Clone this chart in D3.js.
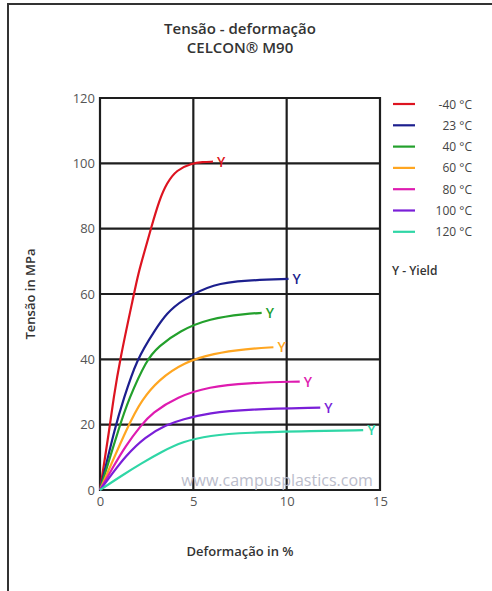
<!DOCTYPE html>
<html>
<head>
<meta charset="utf-8">
<script src="https://cdn.jsdelivr.net/npm/d3@7"></script>
<style>
  body { margin: 0; background: #fff; }
  svg { display: block; font-family: "Open Sans", sans-serif; }
</style>
</head>
<body>
<svg id="chart" width="492" height="591"></svg>
<script>
// series labels and colours
const temps = ["-40 °C", "23 °C", "40 °C", "60 °C", "80 °C", "100 °C", "120 °C"];
const colors = ["#dd1420", "#1c1f8e", "#23a02c", "#ffa621", "#de1bb0", "#7a1fd8", "#2fd6a6"];

// strain (%) / stress (MPa) points
const curveM40 = [[0,0],[0.54,20],[0.71,27.5],[1.07,40],[1.82,60],[2.05,66.3],[2.41,73.5],[2.73,80.1],[3.18,88.8],[3.57,93.9],[4.1,98],[4.9,100],[5.5,100.4],[6.05,100.5]];
const curve23  = [[0,0],[0.84,20],[1.25,27.5],[1.96,40],[2.95,49],[3.57,54.1],[4.4,58.2],[6.07,63.2],[7.86,64.2],[10.1,64.6]];
const curve40  = [[0,0],[1.07,20],[1.52,27.5],[2.5,40],[3.13,43.9],[4.25,48.7],[5.85,52.5],[7.86,54],[8.66,54.2]];
const curve60  = [[0,0],[1.52,20],[2.23,27.5],[3.13,33.7],[4.5,39.1],[6.07,41.8],[7.86,43.2],[9.29,43.7]];
const curve80  = [[0,0],[0.71,7.1],[1.34,13.3],[2.23,20],[2.77,23.5],[4.15,28.6],[5.85,31.6],[7.86,32.8],[10.7,33.2]];
const curve100 = [[0,0],[0.71,5.4],[1.34,10.2],[2.41,16.3],[3.57,20],[4.4,21.6],[5.85,23.6],[7.86,24.7],[11.8,25.2]];
const curve120 = [[0,0],[1.16,4.4],[2.23,8.2],[3.3,11.7],[4.42,14.8],[5.85,16.7],[7.86,17.6],[11.4,18.05],[14.1,18.3]];
const curves = [curveM40, curve23, curve40, curve60, curve80, curve100, curve120];

const xTicks = [0, 5, 10, 15];
const yTicks = [0, 20, 40, 60, 80, 100, 120];

const svg = d3.select("#chart");
const margin = {top: 98, left: 100, right: 112, bottom: 101};
const width = 492 - margin.left - margin.right;
const height = 591 - margin.top - margin.bottom;

const x = d3.scaleLinear().domain([0, 15]).range([margin.left, margin.left + width]);
const y = d3.scaleLinear().domain([0, 120]).range([margin.top + height, margin.top]);

// outer frame
svg.append("path")
    .attr("d", "M8,591 L8,4 L492,4")
    .attr("fill", "none")
    .attr("stroke", "#333")
    .attr("stroke-width", 2);

// titles
svg.append("text").attr("x", 240).attr("y", 34)
    .attr("text-anchor", "middle").attr("font-size", 15).attr("font-weight", 600)
    .attr("fill", "#333").text("Tensão - deformação");
svg.append("text").attr("x", 240).attr("y", 53)
    .attr("text-anchor", "middle").attr("font-size", 15).attr("font-weight", 600)
    .attr("fill", "#333").text("CELCON® M90");

// grid
const grid = svg.append("g").attr("stroke", "#1e1e1e").attr("stroke-width", 2.2);
grid.selectAll(".gx").data(xTicks).enter().append("line")
    .attr("x1", d => x(d)).attr("x2", d => x(d))
    .attr("y1", y(0) + 1).attr("y2", y(120) - 1);
grid.selectAll(".gy").data(yTicks).enter().append("line")
    .attr("x1", x(0) - 1).attr("x2", x(15) + 1)
    .attr("y1", d => y(d)).attr("y2", d => y(d));

// axes via d3
const yAxis = svg.append("g")
    .attr("transform", `translate(${x(0)},0)`)
    .call(d3.axisLeft(y).tickValues(yTicks).tickSize(0).tickPadding(5));
const xAxis = svg.append("g")
    .attr("transform", `translate(0,${y(0)})`)
    .call(d3.axisBottom(x).tickValues(xTicks).tickSize(0).tickPadding(7));
[xAxis, yAxis].forEach(a => {
    a.select(".domain").remove();
    a.selectAll("text").attr("font-size", 13).attr("fill", "#555")
        .attr("font-family", "Open Sans, sans-serif");
});

// watermark
svg.append("text").attr("x", 277).attr("y", 486)
    .attr("text-anchor", "middle").attr("font-size", 16)
    .attr("fill", "#b4b6c6").attr("opacity", 0.9)
    .text("www.campusplastics.com");

// curves - basis spline smooths out reading noise
const line = d3.line()
    .x(d => x(d[0]))
    .y(d => y(d[1]))
    .curve(d3.curveBasis);

svg.selectAll(".curve").data(curves).enter().append("path")
    .attr("class", "curve")
    .attr("d", line)
    .attr("fill", "none")
    .attr("stroke", (d, i) => colors[i])
    .attr("stroke-width", 2.2);

// yield markers
svg.selectAll(".yield").data(curves).enter().append("text")
    .attr("x", d => x(d[d.length - 1][0]) + 4)
    .attr("y", d => y(d[d.length - 1][1]) + 5)
    .attr("font-size", 14).attr("font-weight", 600)
    .attr("fill", (d, i) => colors[i])
    .text("Y");

// axis titles
svg.append("text")
    .attr("transform", `translate(35,${y(60)}) rotate(-90)`)
    .attr("text-anchor", "middle").attr("font-size", 13).attr("font-weight", 600)
    .attr("fill", "#333").text("Tensão in MPa");
svg.append("text").attr("x", 240).attr("y", 556)
    .attr("text-anchor", "middle").attr("font-size", 13).attr("font-weight", 600)
    .attr("fill", "#333").text("Deformação in %");

// legend
const legend = svg.append("g");
const rows = legend.selectAll("g").data(temps).enter().append("g")
    .attr("transform", (d, i) => `translate(0,${104 + i * 21.3})`);
rows.append("line").attr("x1", 393).attr("x2", 415)
    .attr("stroke", (d, i) => colors[i]).attr("stroke-width", 2.2);
rows.append("text").attr("x", 472).attr("y", 4.5)
    .attr("text-anchor", "end").attr("font-size", 12)
    .attr("fill", "#444").text(d => d);
legend.append("text").attr("x", 392).attr("y", 275)
    .attr("font-size", 12).attr("font-weight", 600)
    .attr("fill", "#333").text("Y - Yield");
</script>
</body>
</html>
